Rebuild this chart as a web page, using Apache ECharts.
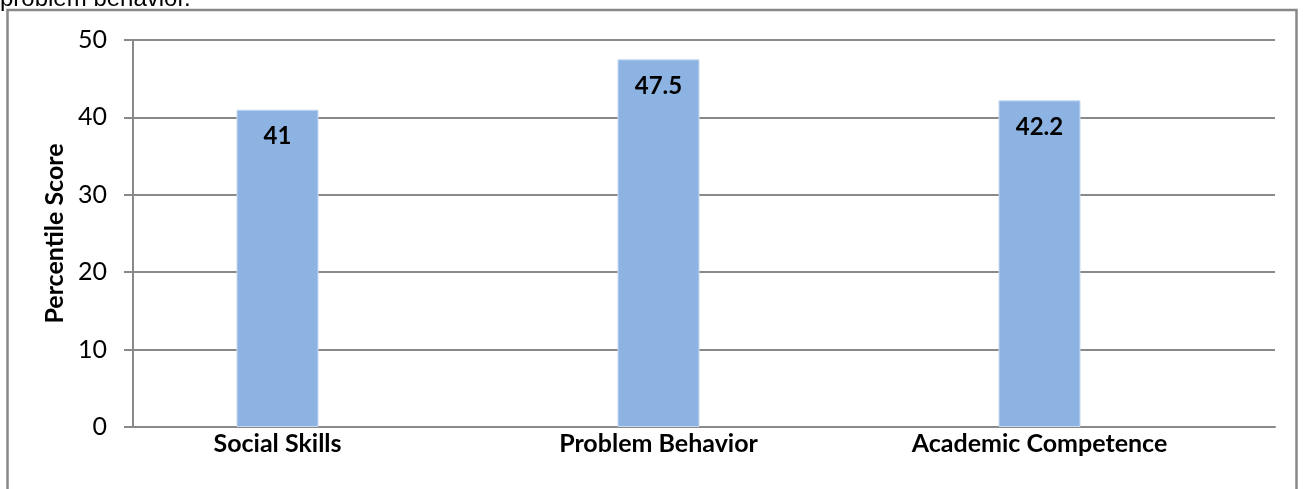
<!DOCTYPE html>
<html>
<head>
<meta charset="utf-8">
<script src="https://cdn.jsdelivr.net/npm/echarts@6/dist/echarts.min.js"></script>
<style>
  html, body { margin: 0; padding: 0; background: #fff; }
  #chart { width: 1304px; height: 489px; }
</style>
</head>
<body>
<div id="chart"></div>
<script>
// data
const categories = ['Social Skills', 'Problem Behavior', 'Academic Competence']
const scores = [41, 47.5, 42.2]
const yTicks = [0, 10, 20, 30, 40, 50]

const font = 'Lato, "Open Sans", sans-serif'
const gray = '#898989'

const chart = echarts.init(document.getElementById('chart'))

const option = {
  animation: false,
  backgroundColor: '#fff',
  graphic: [
    // leftover caption text from the page above the chart
    {
      type: 'text',
      x: 0,
      y: 11,
      style: {
        text: 'problem behavior.',
        font: '24px "Liberation Sans", Arial, sans-serif',
        fill: '#000',
        verticalAlign: 'bottom'
      }
    },
    {
      type: 'rect',
      shape: { x: 7.5, y: 10, width: 1289, height: 500 },
      style: { fill: 'none', stroke: gray, lineWidth: 2.5 },
      z: 100
    }
  ],
  grid: [
    // axis + gridlines
    { left: 133, right: 29, top: 40, bottom: 62 },
    // bars (their category centres sit left of the axis grid)
    { left: 87, width: 1143, top: 40, bottom: 62 }
  ],
  xAxis: [
    {
      gridIndex: 0,
      type: 'category',
      data: categories,
      axisLine: { show: true, lineStyle: { color: gray, width: 2 } },
      axisTick: { show: false },
      axisLabel: { show: false }
    },
    {
      gridIndex: 1,
      type: 'category',
      data: categories,
      axisLine: { show: false },
      axisTick: { show: false },
      axisLabel: {
        margin: 4,
        fontFamily: font,
        fontSize: 25,
        fontWeight: 'bold',
        color: '#000'
      }
    }
  ],
  yAxis: [
    {
      gridIndex: 0,
      type: 'value',
      min: yTicks[0],
      max: yTicks[yTicks.length - 1],
      interval: 10,
      name: 'Percentile Score',
      nameLocation: 'middle',
      nameGap: 56,
      nameRotate: 90,
      nameTextStyle: { fontFamily: font, fontSize: 25, fontWeight: 'bold', color: '#000' },
      axisLine: { show: true, lineStyle: { color: gray, width: 2 } },
      axisTick: { show: true, length: 9, lineStyle: { color: gray, width: 2 } },
      axisLabel: { margin: 26, fontFamily: font, fontSize: 25, color: '#000' },
      splitLine: { show: true, lineStyle: { color: gray, width: 2 } }
    },
    {
      gridIndex: 1,
      type: 'value',
      min: 0,
      max: 50,
      show: false,
      splitLine: { show: false }
    }
  ],
  series: [
    {
      type: 'bar',
      xAxisIndex: 1,
      yAxisIndex: 1,
      data: scores,
      barWidth: 82,
      itemStyle: { color: '#8DB3E2', borderColor: '#C6D9F1', borderWidth: 1 },
      label: {
        show: true,
        position: 'insideTop',
        distance: 15,
        fontFamily: font,
        fontSize: 24,
        fontWeight: 'bold',
        color: '#000'
      }
    }
  ]
}

chart.setOption(option)
window.addEventListener('resize', () => chart.resize())
</script>
</body>
</html>
